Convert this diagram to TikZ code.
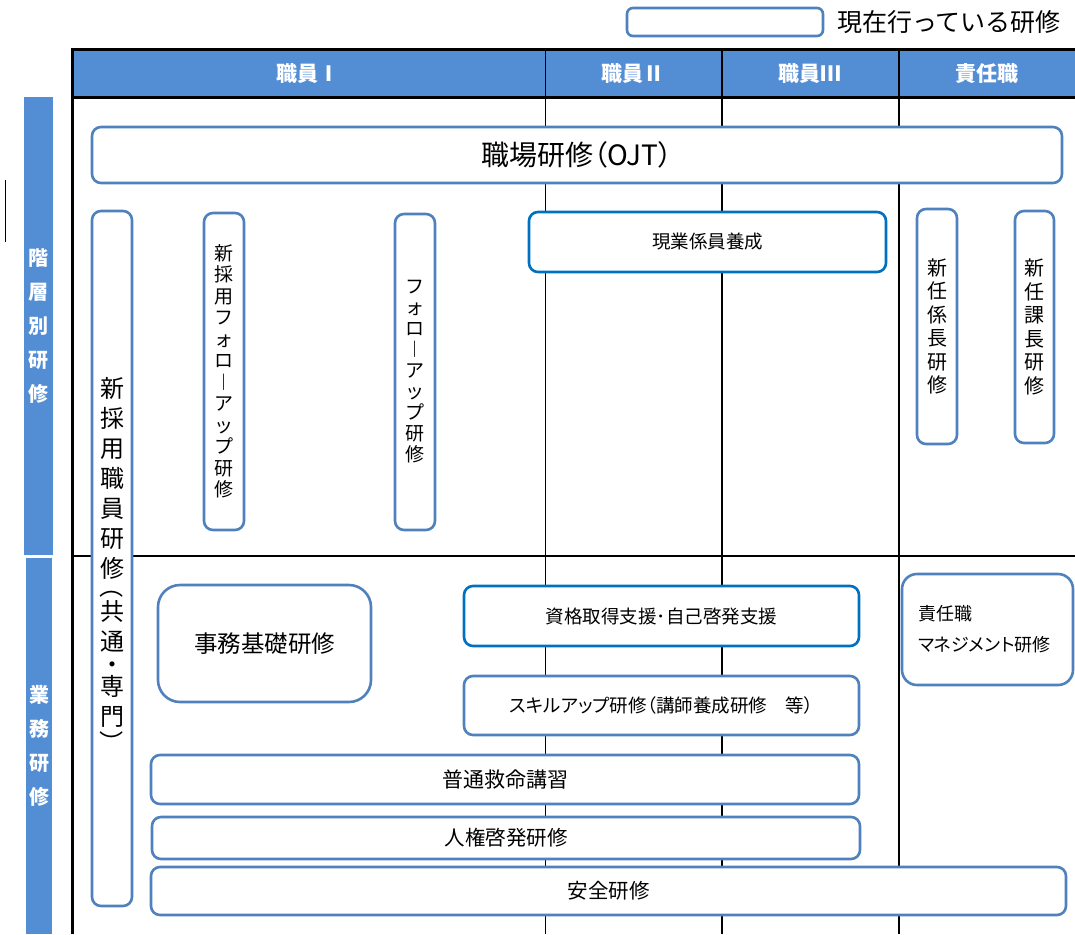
\documentclass[tikz,border=0pt]{standalone}
\usepackage{fontspec}
\setmainfont{Noto Sans CJK JP}
\newfontfamily\jpp{Noto Sans CJK JP}[RawFeature=+palt]
\newcommand{\vparL}{\rotatebox[origin=c]{-90}{（}}
\newcommand{\vparR}{\rotatebox[origin=c]{-90}{）}}
\definecolor{bx}{HTML}{4F81BD}
\definecolor{bxb}{HTML}{0070C0}
\definecolor{hdr}{HTML}{538ED5}
\tikzset{
  box/.style={draw=bx, line width=2.6pt, fill=white, rounded corners=9pt, inner sep=0pt, text=black, align=center},
  boxb/.style={box, draw=bxb},
  hdrtext/.style={text=white, inner sep=0pt, font=\fontsize{21}{21}\selectfont\bfseries},
  sidebar/.style={fill=hdr, draw=none, inner sep=0pt, text=white, align=center, font=\fontsize{20}{34}\selectfont\bfseries},
  tline/.style={draw=black}
}
\begin{document}
\begin{tikzpicture}[x=1pt,y=-1pt]
\useasboundingbox (0,0) rectangle (1075,934);
% legend
\node[box, rounded corners=6pt, minimum width=196pt, minimum height=28pt] (leg) at (725,22) {};
\node[anchor=west, inner sep=0pt, font=\fontsize{25}{25}\selectfont] (legt) at (837,22) {現在行っている研修};
% small mark on the left
\draw[line width=1pt] (5,180) -- (5,242);
% header band
\fill[hdr] (72,50) rectangle (1075,97);
% table lines
\draw[tline, line width=1pt] (545,50) -- (545,934);
\draw[tline, line width=1.5pt] (722,50) -- (722,934);
\draw[tline, line width=2.5pt] (899,50) -- (899,934);
\draw[tline, line width=2pt] (72,556) -- (1075,556);
\draw[tline, line width=3pt] (1075,50) -- (72,50) -- (72,934);
\draw[tline, line width=3pt] (72,97) -- (1075,97);
% header texts
\node[hdrtext] (h1) at (308,74) {職員Ⅰ};
\node[hdrtext] (h2) at (633,74) {職員Ⅱ};
\node[hdrtext] (h3) at (810,74) {職員Ⅲ};
\node[hdrtext] (h4) at (987,74) {責任職};
% side bars
\node[sidebar, minimum width=29pt, minimum height=458pt] (s1) at (38.5,326) {階\\層\\別\\研\\修};
\node[sidebar, minimum width=26pt, minimum height=376pt] (s2) at (39,746) {業\\務\\研\\修};
% boxes
\node[box, minimum width=970pt, minimum height=56pt, font=\jpp\fontsize{28}{28}\selectfont] (ojt) at (577,155) {職場研修（OJT）};
\node[box, minimum width=40pt, minimum height=695pt] (shin) at (112,558.5) {};
\node[inner sep=0pt, align=center, font=\fontsize{24}{30}\selectfont] (shint) at (112,566)
  {新\\採\\用\\職\\員\\研\\修\\[-12pt]\vparL\\[-5pt]共\\通\\[-7pt]・\\[-8pt]専\\門\\[-4pt]\vparR};
\node[box, minimum width=40pt, minimum height=317pt, font=\fontsize{19}{21.5}\selectfont] (sfu) at (224,371.5)
  {新\\採\\用\\フ\\ォ\\ロ\\︱\\ア\\ッ\\プ\\研\\修};
\node[box, minimum width=40pt, minimum height=316pt, font=\fontsize{19}{21}\selectfont] (fu) at (415,372)
  {フ\\ォ\\ロ\\︱\\ア\\ッ\\プ\\研\\修};
\node[boxb, minimum width=357pt, minimum height=60pt, font=\fontsize{18.5}{18.5}\selectfont] (gen) at (707.5,242) {現業係員養成};
\node[box, minimum width=40pt, minimum height=235pt, font=\fontsize{20}{23.5}\selectfont] (kakari) at (937,326.5)
  {新\\任\\係\\長\\研\\修};
\node[box, minimum width=39pt, minimum height=232pt, font=\fontsize{20}{23.5}\selectfont] (kacho) at (1034.5,327)
  {新\\任\\課\\長\\研\\修};
\node[box, rounded corners=22pt, minimum width=213pt, minimum height=117pt, font=\fontsize{23.5}{23.5}\selectfont] (jimu) at (264.5,643.5) {事務基礎研修};
\node[boxb, minimum width=395pt, minimum height=60pt, font=\fontsize{18.5}{18.5}\selectfont] (shikaku) at (661.5,616) {資格取得支援･自己啓発支援};
\node[box, minimum width=395pt, minimum height=59pt, font=\jpp\fontsize{18.5}{18.5}\selectfont] (skill) at (661.5,705.5) {スキルアップ研修（講師養成研修　等）};
\node[box, rounded corners=15pt, minimum width=171pt, minimum height=111pt, text width=139pt, align=left, font=\jpp\fontsize{18}{31}\selectfont] (mgmt) at (987.5,629.5) {責任職\\マネジメント研修};
\node[box, minimum width=708pt, minimum height=49pt, font=\fontsize{21}{21}\selectfont] (kyumei) at (505,779.5) {普通救命講習};
\node[box, minimum width=708pt, minimum height=42pt, font=\fontsize{20.5}{20.5}\selectfont] (jinken) at (506,838) {人権啓発研修};
\node[box, minimum width=915pt, minimum height=48pt, font=\fontsize{20.5}{20.5}\selectfont] (anzen) at (608.5,891) {安全研修};
\end{tikzpicture}
\end{document}
